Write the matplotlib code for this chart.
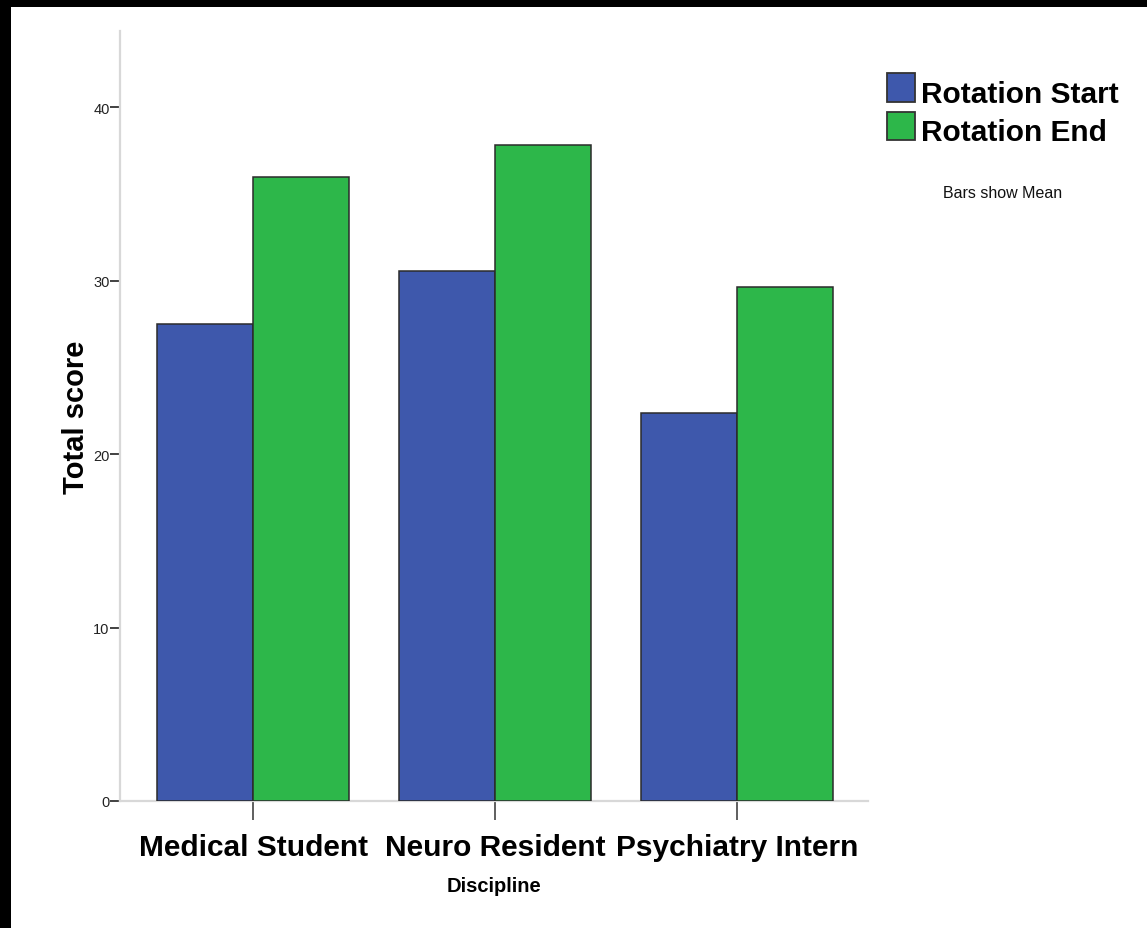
import matplotlib
matplotlib.use("Agg")
import matplotlib.pyplot as plt
from matplotlib.patches import Rectangle
import numpy as np

categories = ["Medical Student", "Neuro Resident", "Psychiatry Intern"]
series_names = ["Rotation Start", "Rotation End"]
rotation_start = [27.5, 30.55, 22.35]
rotation_end = [35.97, 37.85, 29.62]
y_ticks = [0, 10, 20, 30, 40]

plt.rcParams['font.family'] = ['Liberation Sans', 'DejaVu Sans']

W, H = 1147, 929
fig = plt.figure(figsize=(W / 100, H / 100), dpi=100)
fig.patch.set_facecolor('white')

ax = fig.add_axes([120 / W, 1 - 802 / H, (868 - 120) / W, (802 - 32) / H])

x = np.arange(len(categories))
bw = 0.397
blue = '#3e58ac'
green = '#2db74a'
edge = '#2b2b2b'
colors = [blue, green]
b1 = ax.bar(x - bw / 2, rotation_start, bw, color=blue, edgecolor=edge, linewidth=1.1,
            label=series_names[0], zorder=3)
b2 = ax.bar(x + bw / 2, rotation_end, bw, color=green, edgecolor=edge, linewidth=1.1,
            label=series_names[1], zorder=3)

ax.set_xlim(-0.55, 2.541)
ax.set_ylim(0, 44.4)
ax.set_yticks(y_ticks)
ax.set_yticklabels([str(v) for v in y_ticks], fontsize=10.5, color='#222222')
ax.set_xticks(x)
ax.set_xticklabels(categories, fontsize=21.5, fontweight='bold')

for s in ['top', 'right']:
    ax.spines[s].set_visible(False)
for s in ['left', 'bottom']:
    ax.spines[s].set_color('#d8d8d8')
    ax.spines[s].set_linewidth(1.6)

ax.tick_params(axis='y', length=7, width=1.3, color='#333333', pad=0.5)
ax.tick_params(axis='x', length=14, width=1.2, color='#444444', pad=9)

ax.set_ylabel('Total score', fontsize=21, fontweight='bold', labelpad=2.5)
ax.set_xlabel('Discipline', fontsize=14.5, fontweight='bold', labelpad=11)

# legend drawn in figure pixel coordinates
leg_rows = [(74, 103), (113, 141)]
for (top, bot), name, col in zip(leg_rows, series_names, colors):
    fig.patches.append(Rectangle((887 / W, 1 - bot / H), 28 / W, (bot - top) / H,
                                 transform=fig.transFigure, facecolor=col,
                                 edgecolor='#333333', linewidth=1.3, zorder=5))
    fig.text(921 / W, 1 - bot / H, name, fontsize=21.5, fontweight='bold',
             ha='left', va='baseline', color='black')

fig.text(1003 / W, 1 - 193 / H, 'Bars show Mean', fontsize=11.5, ha='center', va='center',
         color='#111111')

# black border strips (top and left)
fig.patches.append(Rectangle((0, 1 - 8 / H), 1, 8 / H, transform=fig.transFigure,
                             facecolor='black', edgecolor='none', zorder=10))
fig.patches.append(Rectangle((0, 0), 11 / W, 1, transform=fig.transFigure,
                             facecolor='black', edgecolor='none', zorder=10))

fig.savefig('out.png', dpi=100, facecolor='white')
